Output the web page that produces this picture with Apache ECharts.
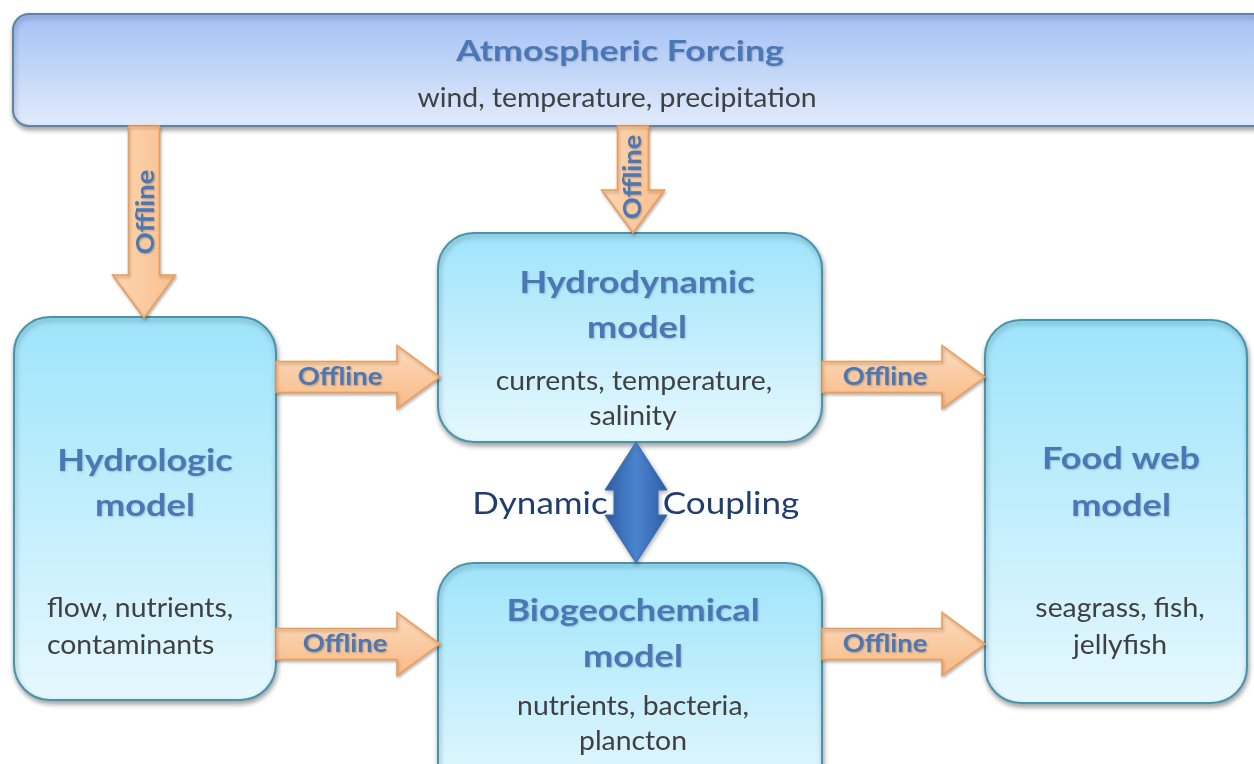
<!DOCTYPE html>
<html>
<head>
<meta charset="utf-8">
<script src="https://cdn.jsdelivr.net/npm/echarts@6/dist/echarts.min.js"></script>
<style>
html,body{margin:0;padding:0;background:#fff;}
#chart{width:1254px;height:764px;}
</style>
</head>
<body>
<div id="chart"></div>
<script>
// ---- diagram data (diagram units on hidden 0..1254 x 0..764 axes) ----
// boxes: [name, left, top, right, bottom]
const boxes = [
  ['Atmospheric Forcing', 13, 14, 1270, 126],
  ['Hydrologic model', 14, 317, 276, 700],
  ['Hydrodynamic model', 438, 233, 822, 442],
  ['Biogeochemical model', 438, 563, 822, 800],
  ['Food web model', 985, 320, 1247, 703]
];
// title lines: [text, x, y, align]
const titleLines = [
  ['Atmospheric Forcing', 620, 52, 'center'],
  ['Hydrodynamic', 637, 283, 'center'],
  ['model', 637, 328, 'center'],
  ['Hydrologic', 145, 461, 'center'],
  ['model', 145, 506, 'center'],
  ['Biogeochemical', 633, 611, 'center'],
  ['model', 633, 657, 'center'],
  ['Food web', 1121, 459, 'center'],
  ['model', 1121, 506, 'center']
];
// detail lines: [text, x, y, align]
const detailLines = [
  ['wind, temperature, precipitation', 617, 98, 'center'],
  ['currents, temperature,', 634, 381, 'center'],
  ['salinity', 633, 416, 'center'],
  ['flow, nutrients,', 47, 608, 'left'],
  ['contaminants', 47, 645, 'left'],
  ['nutrients, bacteria,', 633, 706, 'center'],
  ['plancton', 633, 741, 'center'],
  ['seagrass, fish,', 1120, 608, 'center'],
  ['jellyfish', 1120, 645, 'center']
];
// offline arrows: [tailX, tailY, tipX, tipY, labelX, labelY]
const offlineArrows = [
  [144, 126, 144, 318, 146, 212],
  [633, 126, 633, 233, 633, 177],
  [276, 377, 440, 377, 340, 377],
  [276, 644, 440, 644, 345, 644],
  [822, 377, 985, 377, 885, 377],
  [822, 644, 985, 644, 885, 644]
];
const offlineLabel = 'Offline';
// coupling arrow: [x, topY, bottomY]
const couplingArrow = [[636, 442, 563]];
// coupling labels: [text, x, y]
const couplingLabels = [
  ['Dynamic', 540, 504],
  ['Coupling', 731, 504]
];

const FONT = 'Lato, "Open Sans", sans-serif';
const chart = echarts.init(document.getElementById('chart'), null, {renderer: 'canvas'});
const G = echarts.graphic;

function arrowPoints(p0, p1, sw, hw, hl, doubleHead) {
  const dx = p1[0] - p0[0], dy = p1[1] - p0[1];
  const L = Math.sqrt(dx * dx + dy * dy);
  const ux = dx / L, uy = dy / L, nx = -uy, ny = ux;
  const P = (b, a, n) => [b[0] + ux * a + nx * n, b[1] + uy * a + ny * n];
  if (!doubleHead) {
    return [
      P(p0, 0, sw / 2), P(p0, L - hl, sw / 2), P(p0, L - hl, hw / 2), p1.slice(),
      P(p0, L - hl, -hw / 2), P(p0, L - hl, -sw / 2), P(p0, 0, -sw / 2)
    ];
  }
  return [
    p0.slice(), P(p0, hl, hw / 2), P(p0, hl, sw / 2), P(p0, L - hl, sw / 2), P(p0, L - hl, hw / 2),
    p1.slice(), P(p0, L - hl, -hw / 2), P(p0, L - hl, -sw / 2), P(p0, hl, -sw / 2), P(p0, hl, -hw / 2)
  ];
}

const option = {
  animation: false,
  backgroundColor: '#ffffff',
  grid: {left: 0, right: 0, top: 0, bottom: 0},
  xAxis: {type: 'value', min: 0, max: 1254, show: false},
  yAxis: {type: 'value', min: 0, max: 764, inverse: true, show: false},
  series: [
    {
      type: 'custom', name: 'boxes', silent: true, clip: false,
      data: boxes.map(b => [b[1], b[2], b[3], b[4]]),
      renderItem: function (params, api) {
        const a = api.coord([api.value(0), api.value(1)]);
        const b = api.coord([api.value(2), api.value(3)]);
        const top = params.dataIndex === 0;
        return {
          type: 'rect',
          shape: {x: a[0], y: a[1], width: b[0] - a[0], height: b[1] - a[1], r: top ? 16 : 36},
          style: {
            fill: top
              ? new G.LinearGradient(0, 0, 0, 1, [{offset: 0, color: '#a3c1f5'}, {offset: 1, color: '#e2ebfb'}])
              : new G.LinearGradient(0, 0, 0, 1, [{offset: 0, color: '#9ee4fb'}, {offset: 1, color: '#e6f8fe'}]),
            stroke: top ? '#5d82ad' : '#4595ad',
            lineWidth: 2,
            shadowBlur: 5, shadowOffsetX: 1, shadowOffsetY: 3, shadowColor: 'rgba(0,0,0,0.35)'
          }
        };
      }
    },
    {
      type: 'custom', name: 'offline arrows', silent: true, clip: false,
      data: offlineArrows,
      renderItem: function (params, api) {
        const p0 = api.coord([api.value(0), api.value(1)]);
        const p1 = api.coord([api.value(2), api.value(3)]);
        const lp = api.coord([api.value(4), api.value(5)]);
        const vertical = Math.abs(p1[0] - p0[0]) < 1;
        const pts = arrowPoints(p0, p1, 31, 63, 43, false);
        return {
          type: 'group',
          children: [
            {
              type: 'polygon', shape: {points: pts},
              style: {
                fill: vertical
                  ? new G.LinearGradient(0, 0, 1, 0, [{offset: 0, color: '#fcd6b2'}, {offset: 1, color: '#f9c08e'}])
                  : new G.LinearGradient(0, 0, 0, 1, [{offset: 0, color: '#fcdcbe'}, {offset: 1, color: '#f8b985'}]),
                stroke: '#f29a52', lineWidth: 1.5,
                shadowBlur: 3, shadowOffsetX: 1, shadowOffsetY: 2, shadowColor: 'rgba(0,0,0,0.25)'
              }
            },
            {
              type: 'text', x: lp[0], y: lp[1], rotation: vertical ? Math.PI / 2 : 0, scaleX: 1.14,
              style: {
                text: offlineLabel, fill: '#4a78b6',
                font: 'bold 24px ' + FONT, align: 'center', verticalAlign: 'middle',
                textShadowColor: 'rgba(0,0,0,0.25)', textShadowBlur: 2, textShadowOffsetX: 1, textShadowOffsetY: 1
              }
            }
          ]
        };
      }
    },
    {
      type: 'custom', name: 'coupling', silent: true, clip: false,
      data: couplingArrow,
      renderItem: function (params, api) {
        const p0 = api.coord([api.value(0), api.value(1)]);
        const p1 = api.coord([api.value(0), api.value(2)]);
        return {
          type: 'polygon', shape: {points: arrowPoints(p0, p1, 44, 62, 48, true)},
          style: {
            fill: new G.LinearGradient(0, 0, 1, 0, [
              {offset: 0, color: '#2f60aa'}, {offset: 0.5, color: '#4a84cc'}, {offset: 1, color: '#2f60aa'}
            ]),
            stroke: '#3a6fb8', lineWidth: 1,
            shadowBlur: 4, shadowOffsetX: 1, shadowOffsetY: 2, shadowColor: 'rgba(0,0,0,0.3)'
          }
        };
      }
    },
    {
      type: 'custom', name: 'titles', silent: true, clip: false,
      data: titleLines.map(t => [t[1], t[2]]),
      renderItem: function (params, api) {
        const t = titleLines[params.dataIndex];
        const p = api.coord([api.value(0), api.value(1)]);
        const big = params.dataIndex === 0;
        return {
          type: 'text', x: p[0], y: p[1], scaleX: big ? 1.23 : 1.165,
          style: {
            text: t[0], fill: '#4a78b6',
            font: 'bold ' + (big ? 29 : 31) + 'px ' + FONT,
            align: t[3], verticalAlign: 'middle',
            textShadowColor: 'rgba(0,0,0,0.18)', textShadowBlur: 2, textShadowOffsetX: 1, textShadowOffsetY: 1
          }
        };
      }
    },
    {
      type: 'custom', name: 'details', silent: true, clip: false,
      data: detailLines.map(t => [t[1], t[2]]),
      renderItem: function (params, api) {
        const t = detailLines[params.dataIndex];
        const p = api.coord([api.value(0), api.value(1)]);
        return {
          type: 'text', x: p[0], y: p[1], scaleX: 1.05,
          style: {
            text: t[0], fill: '#404040',
            font: '27px ' + FONT, align: t[3], verticalAlign: 'middle'
          }
        };
      }
    },
    {
      type: 'custom', name: 'coupling labels', silent: true, clip: false,
      data: couplingLabels.map(t => [t[1], t[2]]),
      renderItem: function (params, api) {
        const t = couplingLabels[params.dataIndex];
        const p = api.coord([api.value(0), api.value(1)]);
        return {
          type: 'text', x: p[0], y: p[1], scaleX: 1.13,
          style: {
            text: t[0], fill: '#1f3d6e',
            font: '31px ' + FONT, align: 'center', verticalAlign: 'middle'
          }
        };
      }
    }
  ]
};
chart.setOption(option);
</script>
</body>
</html>
